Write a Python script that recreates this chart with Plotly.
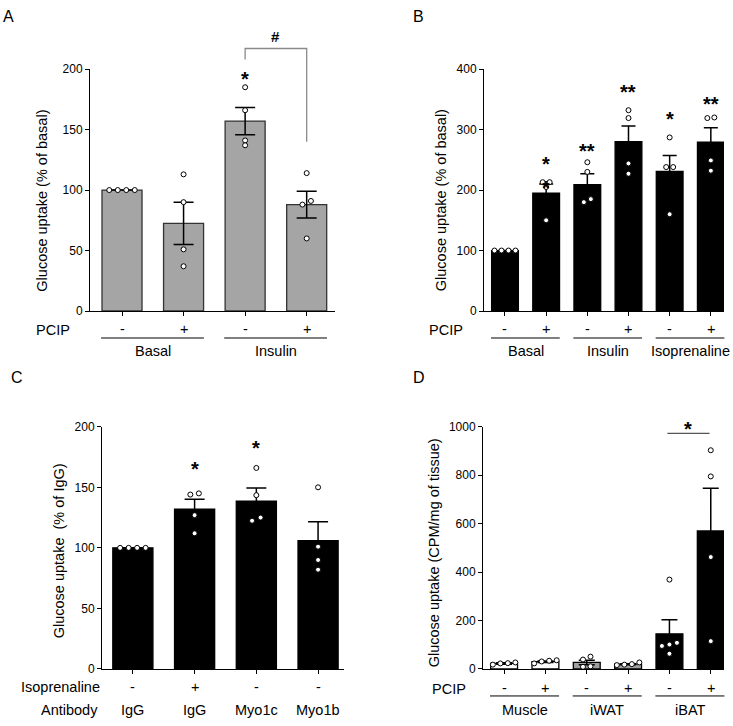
import plotly.graph_objects as go

W, H = 733, 726
FONT = "Liberation Sans, Arial, sans-serif"

# ---------------- data ----------------
# Panel A
A_pcip = ["-", "+", "-", "+"]
A_groups = ["Basal", "Insulin"]
A_mean = [100, 72.5, 157, 88]
A_sem = [0, 17.5, 11.3, 11.1]
A_points = [[100, 100, 100, 100], [113, 90, 51, 37], [185, 166, 141, 137], [114, 91, 88, 60]]
A_stars = ["", "", "*", ""]
A_star_y = [None, None, 196, None]

# Panel B
B_pcip = ["-", "+", "-", "+", "-", "+"]
B_groups = ["Basal", "Insulin", "Isoprenaline"]
B_mean = [100, 195, 209, 280, 231, 279]
B_sem = [0, 15, 18, 26, 26, 24]
B_points = [[100, 100, 100, 100], [213, 213, 205, 150], [246, 230, 185, 180],
            [332, 319, 244, 227], [287, 238, 238, 160], [320, 319, 249, 232]]
B_stars = ["", "*", "**", "**", "*", "**"]
B_star_y = [None, 252, 273, 371, 325, 350]

# Panel C
C_iso = ["-", "+", "-", "-"]
C_antibody = ["IgG", "IgG", "Myo1c", "Myo1b"]
C_mean = [100, 132, 138.6, 106]
C_sem = [0, 8.1, 10.9, 15.5]
C_points = [[100, 100, 100, 100], [144, 145, 127, 112], [166, 143.5, 125, 122.4], [150, 101, 90, 82]]
C_stars = ["", "*", "*", ""]
C_star_y = [None, 169.5, 186.5, None]

# Panel D
D_pcip = ["-", "+", "-", "+", "-", "+"]
D_groups = ["Muscle", "iWAT", "iBAT"]
D_mean = [23, 30, 27, 20, 145, 570]
D_sem = [3, 3, 9, 2, 58, 176]
D_points = [[18, 27, 23, 24], [23, 36, 31, 34], [39, 51, 9, 11], [16, 27, 20, 18],
            [369, 108, 101, 95, 63], [903, 795, 462, 115]]

# ---------------- layout geometry ----------------
def px(p):
    return p / W

def py(p):
    return 1 - p / H

panels = {
    "A": dict(xa="x", ya="y", xdom=[px(90), px(335)], ydom=[py(310), py(63.3)],
              xr=[-0.52, 3.46], yr=[0, 200], dtick=50),
    "B": dict(xa="x2", ya="y2", xdom=[px(484), px(724)], ydom=[py(310), py(63.3)],
              xr=[-0.51, 5.32], yr=[0, 400], dtick=100),
    "C": dict(xa="x3", ya="y3", xdom=[px(102), px(344)], ydom=[py(675), py(428)],
              xr=[-0.5, 3.42], yr=[0, 200], dtick=50),
    "D": dict(xa="x4", ya="y4", xdom=[px(483), px(724)], ydom=[py(675), py(428)],
              xr=[-0.51, 5.32], yr=[0, 1000], dtick=200),
}

def xpaper(p, c):
    d = panels[p]
    return d["xdom"][0] + (c - d["xr"][0]) / (d["xr"][1] - d["xr"][0]) * (d["xdom"][1] - d["xdom"][0])

def ypaper(p, v):
    d = panels[p]
    return d["ydom"][0] + (v - d["yr"][0]) / (d["yr"][1] - d["yr"][0]) * (d["ydom"][1] - d["ydom"][0])

def px_per_cat(p):
    d = panels[p]
    return (d["xdom"][1] - d["xdom"][0]) * W / (d["xr"][1] - d["xr"][0])

def px_per_unit(p):
    d = panels[p]
    return (d["ydom"][1] - d["ydom"][0]) * H / (d["yr"][1] - d["yr"][0])

def spread(p, values, gap_px=4.5, step_px=8):
    order = sorted(range(len(values)), key=lambda i: values[i])
    clusters = []
    for i in order:
        if clusters and (values[i] - values[clusters[-1][-1]]) * px_per_unit(p) < gap_px:
            clusters[-1].append(i)
        else:
            clusters.append([i])
    offs = [0.0] * len(values)
    for cl in clusters:
        n = len(cl)
        for k, i in enumerate(cl):
            offs[i] = (k - (n - 1) / 2) * step_px / px_per_cat(p)
    return offs

fig = go.Figure()
annotations = []
shapes = []

def add_panel(p, means, sems, points, fills, edges, cap, step_px):
    d = panels[p]
    n = len(means)
    fig.add_trace(go.Bar(
        x=list(range(n)), y=means, width=0.65,
        marker=dict(color=fills, line=dict(color=edges, width=1.3)),
        error_y=dict(type="data", array=sems, visible=True, color="black",
                     thickness=1.5, width=cap),
        xaxis=d["xa"], yaxis=d["ya"], hoverinfo="skip"))
    xs, ys = [], []
    for i, vals in enumerate(points):
        offs = spread(p, vals, step_px=step_px)
        for v, o in zip(vals, offs):
            xs.append(i + o)
            ys.append(v)
    fig.add_trace(go.Scatter(
        x=xs, y=ys, mode="markers", cliponaxis=False,
        marker=dict(size=5, color="white", line=dict(color="black", width=1)),
        xaxis=d["xa"], yaxis=d["ya"], hoverinfo="skip"))

add_panel("A", A_mean, A_sem, A_points, ["#a5a5a5"] * 4, ["#333333"] * 4, 10, 8.5)
add_panel("B", B_mean, B_sem, B_points, ["black"] * 6, ["black"] * 6, 7, 7)
add_panel("C", C_mean, C_sem, C_points, ["black"] * 4, ["black"] * 4, 10, 8.5)
D_fill = ["white", "white", "#a0a0a0", "#a0a0a0", "black", "black"]
add_panel("D", D_mean, D_sem, D_points, D_fill, ["black"] * 6, 8, 7.5)

LBL = 14.5
STAR = 20

def ann(text, x, y, xref="paper", yref="paper", size=LBL, xanchor="center",
        yanchor="middle", angle=0, yshift=0, bold=False):
    annotations.append(dict(
        text=("<b>%s</b>" % text) if bold else text, x=x, y=y, xref=xref, yref=yref,
        showarrow=False, xanchor=xanchor, yanchor=yanchor, textangle=angle, yshift=yshift,
        font=dict(family=FONT, size=size, color="black")))

def hline(x0, x1, y, color="black", width=1):
    shapes.append(dict(type="line", xref="paper", yref="paper", x0=x0, x1=x1, y0=y, y1=y,
                       line=dict(color=color, width=width)))

# stars
for p, stars, sy in [("A", A_stars, A_star_y), ("B", B_stars, B_star_y), ("C", C_stars, C_star_y)]:
    d = panels[p]
    for i, (s, v) in enumerate(zip(stars, sy)):
        if s:
            ann(s, i, v, xref=d["xa"], yref=d["ya"], size=STAR, yshift=-5, bold=True)
# extra star overlapping the points of B bar 2
ann("*", 1, 212, xref="x2", yref="y2", size=STAR, yshift=-5, bold=True)

# Panel A bracket + '#'
bx0, bx1 = xpaper("A", 2), xpaper("A", 3)
shapes.append(dict(type="path", xref="paper", yref="paper",
                   path="M %f,%f L %f,%f L %f,%f L %f,%f" % (
                       bx0, ypaper("A", 208), bx0, ypaper("A", 217),
                       bx1, ypaper("A", 217), bx1, ypaper("A", 140)),
                   line=dict(color="#8a8a8a", width=1.3)))
ann("#", (bx0 + bx1) / 2, py(30), size=15, bold=True)

# Panel D significance line
hline(xpaper("D", 3.95), xpaper("D", 4.97), ypaper("D", 973), color="#555555", width=1.2)
ann("*", (xpaper("D", 3.95) + xpaper("D", 4.97)) / 2, ypaper("D", 1011), size=STAR, yshift=-5, bold=True)

# under-axis labels
def group_rows(p, signs, groups, sign_y, line_y, group_y, label_x_right):
    d = panels[p]
    for i, s in enumerate(signs):
        ann(s, i, py(sign_y), xref=d["xa"])
    ann("PCIP", px(label_x_right), py(sign_y + 1), xanchor="right")
    for g, name in enumerate(groups):
        c0, c1 = 2 * g, 2 * g + 1
        hline(xpaper(p, c0 - 0.34), xpaper(p, c1 + 0.33), py(line_y))
        ann(name, xpaper(p, (c0 + c1) / 2), py(group_y))

group_rows("A", A_pcip, A_groups, 328, 337.5, 351, 72)
group_rows("B", B_pcip, B_groups, 328, 337.5, 351, 465)
group_rows("D", D_pcip, D_groups, 694, 702.5, 717, 468)

for i, (s, ab) in enumerate(zip(C_iso, C_antibody)):
    ann(s, i, py(693), xref="x3")
    ann(ab, i, py(717), xref="x3")
ann("Isoprenaline", px(102), py(693), xanchor="right")
ann("Antibody", px(100), py(717), xanchor="right")

# y-axis titles
TT = 14.5
ann("Glucose uptake (% of basal)", px(42.5), py(198), size=TT, angle=-90)
ann("Glucose uptake (% of basal)", px(441), py(197), size=TT, angle=-90)
ann("Glucose uptake\u00a0 (% of IgG)", px(59), py(555), size=TT, angle=-90)
ann("Glucose uptake (CPM/mg of tissue)", px(434), py(557), size=TT, angle=-90)

# panel letters
ann("A", px(8), py(10), size=16)
ann("B", px(418), py(10), size=16)
ann("C", px(17), py(378), size=16)
ann("D", px(419), py(378), size=16)

layout = dict(width=W, height=H, margin=dict(l=0, r=0, t=0, b=0),
              paper_bgcolor="white", plot_bgcolor="white", showlegend=False,
              bargap=0.35, annotations=annotations, shapes=shapes,
              font=dict(family=FONT, color="black"))

for p, d in panels.items():
    n = "" if d["xa"] == "x" else d["xa"][1:]
    layout["xaxis" + n] = dict(
        domain=d["xdom"], range=d["xr"], anchor=d["ya"], showline=True, linecolor="black",
        linewidth=1, ticks="outside", ticklen=4, tickcolor="black", tickwidth=1,
        tickvals=list(range(6 if p in "BD" else 4)), showticklabels=False,
        showgrid=False, zeroline=False, fixedrange=True)
    layout["yaxis" + n] = dict(
        domain=d["ydom"], range=d["yr"], anchor=d["xa"], showline=True, linecolor="black",
        linewidth=1, ticks="outside", ticklen=4, tickcolor="black", tickwidth=1,
        dtick=d["dtick"], tick0=0, showgrid=False, zeroline=False, fixedrange=True,
        tickfont=dict(family=FONT, size=12, color="black"))

fig.update_layout(**layout)
fig.write_html("out.html", config={"displayModeBar": False},
               post_script="document.body.style.margin='0';document.body.style.padding='0';")
